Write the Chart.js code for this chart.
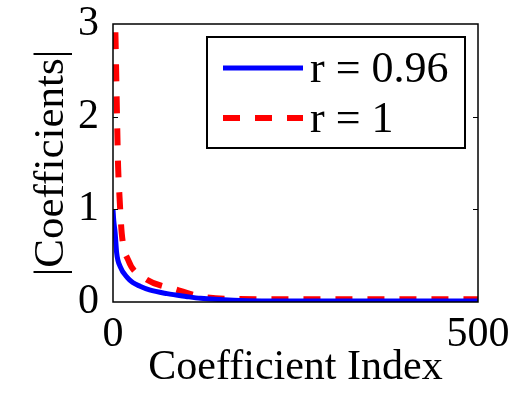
<!DOCTYPE html>
<html>
<head>
<meta charset="utf-8">
<script src="https://cdn.jsdelivr.net/npm/chart.js@4.4.0/dist/chart.umd.min.js"></script>
<style>
  html, body { margin: 0; padding: 0; background: #fff; }
  #wrap { width: 521px; height: 393px; }
</style>
</head>
<body>
<div id="wrap"><canvas id="chart" width="521" height="393"></canvas></div>
<script>
// values
const blueIdx = [0, 1, 3, 5, 10, 20, 27, 37, 50, 74, 100, 120, 165, 250, 350, 500];
const blueVal = [1.0, 0.88, 0.74, 0.53, 0.38, 0.26, 0.21, 0.17, 0.13, 0.09, 0.06, 0.04, 0.02, 0.01, 0.01, 0.01];
const redIdx = [0, 3, 5.5, 7, 8.7, 12, 21, 41, 88, 129, 200, 300, 500];
const redVal = [3.6, 3.0, 2.0, 1.46, 1.17, 0.74, 0.45, 0.27, 0.13, 0.05, 0.03, 0.03, 0.03];
const seriesLabels = ['r = 0.96', 'r = 1'];
const xTicks = [0, 500];
const yTicks = [0, 1, 2, 3];

const FONT = "'Liberation Serif', 'Times New Roman', serif";
const pts = (xs, ys) => xs.map((x, i) => ({ x, y: ys[i] }));

// box round the plot, inward ticks, legend inside the plot
const frame = {
  id: 'frame',
  afterDatasetsDraw(chart) {
    const { ctx, chartArea: a, scales } = chart;
    ctx.save();
    ctx.strokeStyle = '#000';
    ctx.lineWidth = 1.5;
    ctx.strokeRect(a.left, a.top, a.right - a.left, a.bottom - a.top);
    ctx.lineWidth = 1;
    yTicks.slice(1, -1).forEach(v => {
      const y = Math.round(scales.y.getPixelForValue(v)) + 0.5;
      ctx.beginPath();
      ctx.moveTo(a.left, y); ctx.lineTo(a.left + 5, y);
      ctx.moveTo(a.right, y); ctx.lineTo(a.right - 5, y);
      ctx.stroke();
    });

    // legend
    const bx = a.left + 94, by = a.top + 13, bw = 258, bh = 111;
    ctx.fillStyle = '#fff';
    ctx.fillRect(bx, by, bw, bh);
    ctx.lineWidth = 2;
    ctx.strokeRect(bx, by, bw, bh);
    chart.data.datasets.forEach((ds, i) => {
      const y = by + 31 + i * 50;
      ctx.beginPath();
      ctx.strokeStyle = ds.borderColor;
      ctx.lineWidth = ds.borderWidth;
      ctx.setLineDash(ds.borderDash || []);
      ctx.moveTo(bx + 16, y); ctx.lineTo(bx + 96, y);
      ctx.stroke();
      ctx.setLineDash([]);
      ctx.fillStyle = '#000';
      ctx.font = `44px ${FONT}`;
      ctx.textBaseline = 'middle';
      ctx.fillText(ds.label, bx + 103, y + 2);
    });
    ctx.restore();
  }
};

new Chart(document.getElementById('chart'), {
  type: 'line',
  data: {
    datasets: [
      {
        label: seriesLabels[0], data: pts(blueIdx, blueVal),
        borderColor: '#0000ff', borderWidth: 5, pointRadius: 0,
        cubicInterpolationMode: 'monotone', clip: 0,
      },
      {
        label: seriesLabels[1], data: pts(redIdx, redVal),
        borderColor: '#ff0000', borderWidth: 6, borderDash: [17, 15], pointRadius: 0,
        cubicInterpolationMode: 'monotone', clip: 0,
      },
    ],
  },
  options: {
    responsive: false,
    animation: false,
    events: [],
    layout: { padding: { left: 26, right: 43, top: 0, bottom: 0 } },
    plugins: { legend: { display: false }, tooltip: { enabled: false } },
    scales: {
      x: {
        type: 'linear', min: 0, max: 500,
        afterBuildTicks: s => { s.ticks = xTicks.map(v => ({ value: v })); },
        afterFit: s => { s.height = 91; },
        grid: { display: false }, border: { display: false },
        ticks: { color: '#000', font: { family: FONT, size: 42 }, padding: 0, maxRotation: 0 },
        title: { display: true, text: 'Coefficient Index', color: '#000', font: { family: FONT, size: 42 }, padding: 0 },
      },
      y: {
        min: 0, max: 3,
        afterBuildTicks: s => { s.ticks = yTicks.map(v => ({ value: v })); },
        afterFit: s => { s.width = 87; s.paddingTop = 24; },
        grid: { display: false }, border: { display: false },
        ticks: { color: '#000', font: { family: FONT, size: 42 }, padding: 6 },
        title: { display: true, text: '|Coefficients|', color: '#000', font: { family: FONT, size: 43 }, padding: 0 },
      },
    },
  },
  plugins: [frame],
});
</script>
</body>
</html>
